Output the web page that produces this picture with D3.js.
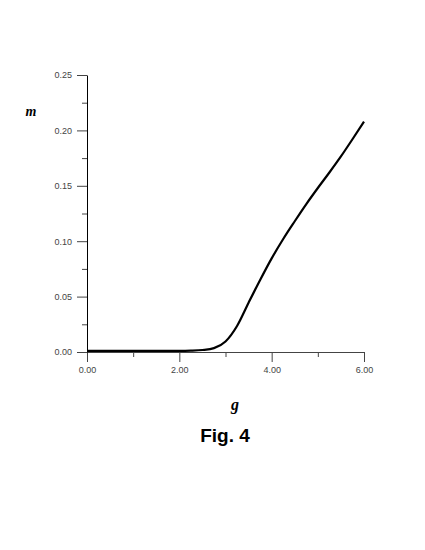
<!DOCTYPE html>
<html>
<head>
<meta charset="utf-8">
<script src="https://cdn.jsdelivr.net/npm/d3@7"></script>
<style>
  body { margin: 0; background: #fff; }
  svg { display: block; }
  .tick text { font-family: "Liberation Sans", Arial, sans-serif; font-size: 9px; fill: #444; }
</style>
</head>
<body>
<div id="chart"></div>
<script>
// values: order parameter m against g
var gValues = [0, 0.25, 0.5, 0.75, 1, 1.25, 1.5, 1.75, 2, 2.25, 2.5, 2.75, 3, 3.25, 3.5, 3.75, 4, 4.25, 4.5, 4.75, 5, 5.25, 5.5, 5.75, 6];
var mValues = [0.001, 0.001, 0.001, 0.001, 0.001, 0.001, 0.001, 0.001, 0.001, 0.0012, 0.0018, 0.0035, 0.0095, 0.0235, 0.0445, 0.065, 0.0845, 0.102, 0.118, 0.1335, 0.148, 0.162, 0.1765, 0.192, 0.208];
var xMajor = [0, 2, 4, 6];
var xMinor = [1, 3, 5];
var yMajor = [0, 0.05, 0.10, 0.15, 0.20, 0.25];
var yMinor = [0.025, 0.075, 0.125, 0.175, 0.225];

function makeChart() {
  var width = 425, height = 550;

  var svg = d3.select("#chart")
      .append("svg")
      .attr("width", width)
      .attr("height", height);

  var x = d3.scaleLinear().domain([0, 6]).range([87, 364]);
  var y = d3.scaleLinear().domain([0, 0.25]).range([352, 75]);

  // minor ticks first, so the major axis lines sit on top
  svg.append("g")
      .attr("transform", "translate(0,352)")
      .call(d3.axisBottom(x).tickValues(xMinor).tickSize(5).tickSizeOuter(0).tickFormat(""))
      .call(function(g) { g.select(".domain").remove(); })
      .selectAll("line").attr("stroke", "#444");

  svg.append("g")
      .attr("transform", "translate(87,0)")
      .call(d3.axisLeft(y).tickValues(yMinor).tickSize(5).tickSizeOuter(0).tickFormat(""))
      .call(function(g) { g.select(".domain").remove(); })
      .selectAll("line").attr("stroke", "#444");

  var xAxis = svg.append("g")
      .attr("transform", "translate(0,352)")
      .call(d3.axisBottom(x).tickValues(xMajor).tickSize(10).tickSizeOuter(0)
        .tickPadding(5).tickFormat(d3.format(".2f")));
  xAxis.select(".domain").attr("stroke", "#444");
  xAxis.selectAll("line").attr("stroke", "#444");

  var yAxis = svg.append("g")
      .attr("transform", "translate(87,0)")
      .call(d3.axisLeft(y).tickValues(yMajor).tickSize(10).tickSizeOuter(0)
        .tickPadding(5).tickFormat(d3.format(".2f")));
  yAxis.select(".domain").attr("stroke", "#000");
  yAxis.selectAll("line").attr("stroke", "#444");

  var line = d3.line()
      .x(function(d, i) { return x(gValues[i]); })
      .y(function(d) { return y(d); })
      .curve(d3.curveMonotoneX);

  svg.append("path")
      .datum(mValues)
      .attr("d", line)
      .attr("fill", "none")
      .attr("stroke", "#000")
      .attr("stroke-width", 2.2)
      .attr("stroke-linejoin", "round");

  svg.append("text")
      .attr("x", 31)
      .attr("y", 116)
      .attr("text-anchor", "middle")
      .attr("font-family", "Liberation Serif, serif")
      .attr("font-weight", "bold")
      .attr("font-style", "italic")
      .attr("font-size", 14)
      .text("m");

  svg.append("text")
      .attr("x", 235)
      .attr("y", 410)
      .attr("text-anchor", "middle")
      .attr("font-family", "Liberation Serif, serif")
      .attr("font-weight", "bold")
      .attr("font-style", "italic")
      .attr("font-size", 16)
      .text("g");

  svg.append("text")
      .attr("x", 225)
      .attr("y", 442)
      .attr("text-anchor", "middle")
      .attr("font-family", "Liberation Sans, Arial, sans-serif")
      .attr("font-weight", "bold")
      .attr("font-size", 19)
      .text("Fig. 4");
}

makeChart();
</script>
</body>
</html>
